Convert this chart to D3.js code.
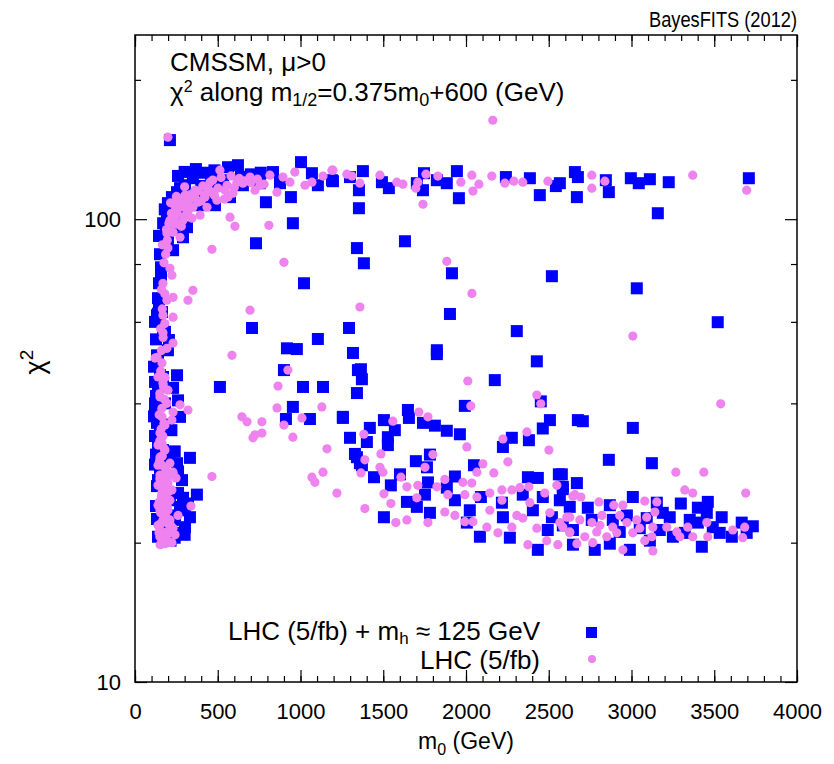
<!DOCTYPE html>
<html>
<head>
<meta charset="utf-8">
<script src="https://cdn.jsdelivr.net/npm/d3@7"></script>
<style>
  body { margin: 0; background: #fff; }
  text { font-family: "Liberation Sans", Arial, sans-serif; }
</style>
</head>
<body>
<div id="chart"></div>
<script>
// LHC (5/fb) + mh ~ 125 GeV   [m0 (GeV), chi2]
var withHiggs = [
  [211,148.2],[368,128.3],[350,122.6],[272,116.7],[254,114.4],[223,111.6],[199,108.3],[193,102.0],
  [187,96.1],[199,89.2],[230,85.7],[314,96.1],[290,91.4],[562,129.5],[622,130.8],[532,121.4],
  [574,111.6],[453,111.6],[652,118.4],[755,119.6],[791,108.8],[834,126.4],[876,119.6],[942,111.6],
  [954,98.0],[1003,132.8],[1069,125.7],[1105,118.4],[1190,121.4],[731,88.7],[1021,72.7],[332,109.9],
  [393,107.2],[483,107.2],[272,102.0],[242,97.0],[302,118.4],[423,114.4],
  [350,110.0],[400,118.0],[460,122.5],[500,118.5],[640,123.5],[700,125.0],[760,126.0],[300,126.5],
  [260,124.0],[420,126.0],[480,127.5],[180,105.0],[170,98.0],[165,92.0],
  [157,78.7],[145,72.7],[139,67.5],[163,63.0],[169,57.6],[205,54.8],[133,50.8],[181,57.1],
  [199,52.1],[139,50.1],[254,46.0],[169,45.6],[230,43.2],[139,43.4],[260,40.6],[272,37.4],
  [121,39.3],[133,36.3],[139,32.8],[211,30.6],[254,29.7],[332,30.5],[374,25.4],[260,25.6],
  [272,23.9],[332,22.7],[302,21.6],[260,21.0],[151,46.0],[121,40.0],[151,28.7],[139,27.3],
  [181,26.0],[211,24.7],[223,22.9],[199,21.8],[181,20.8],[242,22.4],[302,23.5],[284,27.3],
  [133,62.0],[151,35.0],[169,31.7],
  [121,60.0],[127,55.0],[115,48.0],[121,44.5],[127,41.5],[115,37.5],[121,34.0],[127,31.0],
  [121,29.5],[133,26.5],[127,24.0],[133,22.5],[139,20.6],[145,92.0],[151,84.0],[157,75.0],
  [145,66.0],[139,62.5],[181,40.0],[200,36.0],[240,31.5],[220,35.0],[260,28.5],[290,25.0],
  [320,24.3],[300,20.8],[240,20.5],[215,20.2],
  [707,58.2],[513,43.4],[918,52.6],[978,52.4],[1105,55.1],[1293,58.2],[1317,51.4],[900,47.2],
  [1015,43.4],[1136,43.4],[954,39.3],[912,37.0],[1057,37.0],[1256,37.4],[1299,33.7],[1341,30.6],
  [1359,29.7],[1347,47.2],[1341,86.6],[1383,80.3],[1631,89.6],[1915,76.4],[2519,75.3],[1903,62.4],
  [2307,57.3],[1824,52.1],
  [1196,120.8],[1377,127.0],[1299,123.3],[1492,120.2],[1534,116.7],[1703,119.6],[1746,125.7],[1740,115.5],
  [1824,121.4],[1884,119.6],[1945,127.0],[1957,111.0],[1353,115.5],[1353,105.6],[2241,123.3],[2386,122.6],
  [2446,112.7],[2567,119.6],[2543,117.9],[2658,126.4],[2670,111.6],[2676,123.3],[2845,121.4],[2863,114.4],
  [2996,122.6],[3044,119.6],[3111,122.0],[3225,120.2],[3159,103.0],[3709,122.6],[3032,70.9],[3521,59.9],
  [1824,51.1],[2428,49.3],[1365,47.4],[1371,45.1],[1341,42.1],[2174,44.9],[2452,40.4],[1993,39.5],
  [1256,37.2],[1649,38.7],[1655,37.2],[1504,36.8],[1740,36.3],[1812,35.8],[1884,34.9],[1963,34.3],
  [1419,35.4],[1401,33.0],[1528,33.8],[1528,32.5],[1570,35.0],[2507,36.8],[2464,35.3],[2380,33.3],
  [2277,33.7],[2223,32.2],[1329,31.1],[1371,29.4],[1444,27.7],[1697,30.0],[1782,31.0],[1764,29.1],
  [2048,29.4],[2561,28.1],[2374,27.7],[2434,27.6],[1546,26.6],[1601,28.1],[1770,27.0],[1933,27.8],
  [2090,25.1],[1643,24.5],[1703,23.9],[1752,25.4],[1782,23.2],[1504,22.7],[1884,26.3],[1933,24.7],
  [2023,23.5],[2005,22.1],[2084,20.6],[2217,24.4],[2223,22.7],[2265,20.5],[2343,25.4],[2404,23.5],
  [2464,25.1],[2519,22.7],[2567,24.7],[2585,26.4],[2627,23.9],[2646,21.3],[2434,19.3],[2494,21.3],
  [2676,36.8],[2585,21.8],
  [2706,36.6],[3008,35.4],[2863,30.2],[3123,29.7],[2579,28.1],[2670,26.9],[2585,26.1],[3008,25.1],
  [3298,24.3],[3461,24.5],[3153,24.4],[2869,24.1],[3401,23.8],[3545,22.7],[3666,22.1],[3733,21.7],
  [3696,21.0],[3533,21.0],[3606,20.6],[3401,22.1],[3425,19.6],[3231,22.7],[3250,20.6],[3171,21.3],
  [3111,20.2],[2990,19.3],[2778,19.3],[2646,19.8],[2869,19.9],[2972,22.9],[2760,22.4],[3092,22.6],
  [2887,22.4],[2736,23.8],[2929,21.1],[3050,21.5],[3189,23.2],[3322,21.0],[3352,22.4],[3455,23.2],
  [3491,21.6]
];

// LHC (5/fb) only   [m0 (GeV), chi2]
var lhcOnly = [
  [199,150.4],[2162,163.6],
  [513,127.6],[695,123.3],[725,115.5],[652,119.6],[616,120.2],[556,118.4],[501,116.7],[465,114.4],
  [423,111.6],[381,108.8],[350,106.1],[314,104.5],[272,106.1],[254,103.0],[230,100.5],[211,99.5],
  [211,96.1],[230,93.7],[272,91.4],[193,93.2],[199,86.6],[344,100.5],[393,102.0],[435,106.1],
  [495,109.9],[562,111.6],[592,113.8],[574,101.0],[604,96.5],[465,86.1],[211,78.3],[223,75.7],
  [169,72.7],[350,70.2],[320,66.8],[230,67.8],[193,66.8],[169,62.0],[230,61.4],[695,63.6],
  [169,56.8],[230,54.0],[193,52.6],[133,50.3],[586,50.8],[809,97.0],[900,80.7],[858,114.4],
  [936,120.2],[966,126.4],[1027,118.4],[1069,120.2],[1136,123.9],[1190,127.6],[1280,125.1],[1359,119.6],
  [815,124.5],[894,123.3],[302,112.7],[362,115.5],[453,120.2],[755,118.4],[242,107.2],[290,99.5],
  [260,111.0],[320,108.3],[544,115.5],
  [160,52.0],[170,55.5],[155,58.0],[180,59.5],[165,64.0],[180,69.0],[160,70.5],[175,80.5],
  [185,84.0],[165,88.0],[190,95.0],[205,98.0],[220,103.0],[245,105.0],[265,109.0],[290,110.0],
  [310,112.0],[335,113.0],[360,112.0],[380,115.0],[410,118.0],[440,117.0],[470,121.5],[520,123.0],
  [580,124.0],[630,122.5],[660,121.0],[700,120.0],[740,122.0],[780,119.0],[215,108.5],[240,101.0],
  [255,97.5],[280,96.5],[300,101.5],[320,104.0],[195,90.0],[250,112.0],[300,117.5],[400,109.5],
  [350,111.0],[420,113.0],[480,112.5],[540,110.5],[600,117.0],
  [121,50.1],[163,48.9],[139,45.6],[169,44.2],[199,42.7],[151,41.3],[193,40.0],[230,38.3],
  [272,39.7],[320,38.7],[223,36.8],[163,37.4],[181,35.9],[151,34.5],[163,32.8],[181,31.7],
  [151,30.6],[211,29.7],[230,28.4],[248,27.6],[163,29.4],[151,28.0],[169,26.9],[199,26.9],
  [223,26.0],[163,25.7],[169,24.7],[211,24.7],[151,23.5],[199,23.5],[169,22.4],[211,22.4],
  [151,21.3],[193,21.1],[230,21.5],[163,20.2],[223,20.0],[181,19.9],[139,21.8],[139,24.1],
  [139,26.6],[139,29.4],[139,32.5],[242,20.8],[260,22.9],[187,25.4],[187,28.7],[465,27.8],
  [145,21.0],[157,22.0],[175,23.0],[146,24.5],[160,25.2],[178,26.3],[150,27.5],[170,28.0],
  [185,29.0],[148,30.0],[165,30.8],[175,32.0],[150,33.2],[168,34.0],[158,35.2],[175,36.2],
  [146,37.8],[162,39.0],[178,40.8],[150,42.0],[172,43.5],[155,47.0],[182,45.5],[150,20.6],
  [190,20.4],[205,21.0],[200,22.0],[185,22.8],[155,23.2],[195,24.0],[205,25.8],[185,27.5],
  [152,19.8],[200,20.0],[215,21.8],[180,24.3],[200,27.8],
  [338,24.0],[646,37.4],[677,36.5],[725,34.2],[713,33.7],[767,36.5],[767,34.5],[864,43.6],
  [924,47.2],[858,39.1],[900,35.9],[1009,37.2],[1129,39.3],[954,33.8],[1160,31.9],[1136,28.4],
  [1069,27.7],[1087,27.0],[1220,25.6],[1359,64.6],[1884,81.1],[2036,69.1],
  [1196,127.6],[1311,123.9],[1480,124.5],[1582,120.2],[1619,119.0],[1709,120.2],[1697,116.7],[1758,125.1],
  [1830,123.9],[1740,107.7],[1969,120.2],[2035,124.5],[2042,115.0],[2078,119.0],[2156,123.9],[2235,119.6],
  [2289,120.8],[2343,120.2],[2495,120.8],[2760,124.5],[2760,116.7],[2839,120.8],[3370,124.5],[3696,115.5],
  [3008,55.9],
  [2011,44.7],[2428,41.7],[2452,39.9],[2029,39.5],[1715,38.3],[1770,37.4],[1558,36.6],[1383,34.3],
  [2368,34.7],[2223,33.5],[2005,32.2],[2501,31.7],[1486,31.1],[1800,31.0],[1389,30.2],[1752,29.1],
  [1480,29.1],[1498,28.4],[1365,28.3],[2102,29.6],[2253,29.9],[2168,28.3],[1504,25.5],[1546,24.3],
  [1389,23.7],[1576,22.1],[1643,22.4],[1770,22.1],[1607,27.7],[1643,26.4],[1709,26.6],[1703,25.0],
  [1824,26.4],[1872,27.4],[1890,25.4],[1981,27.0],[2035,26.9],[1993,25.4],[2066,25.1],[1872,23.3],
  [1933,22.9],[1993,22.2],[2042,22.2],[2144,23.5],[2144,25.6],[2217,26.0],[2277,26.0],[2325,26.3],
  [2380,26.4],[2217,24.7],[2307,22.9],[2386,24.4],[2343,22.6],[2428,21.5],[2476,25.6],[2549,26.6],
  [2507,23.2],[2567,22.1],[2627,22.7],[2658,25.4],[2488,20.2],[2374,19.8],[2277,21.6],[2193,21.0],
  [2126,21.6],[2555,19.8],[2627,21.0],[2066,28.4],
  [3539,39.9],[3268,28.4],[3437,28.4],[3322,26.0],[3370,25.6],[3690,25.6],[2646,25.2],[2694,25.1],
  [2803,24.5],[2893,24.1],[2948,24.1],[3080,24.6],[3153,24.5],[3141,23.3],[2609,22.7],[2688,22.4],
  [2760,22.1],[2821,22.9],[2887,21.6],[2972,22.1],[3032,22.4],[3092,22.7],[3129,21.6],[3213,21.6],
  [3274,21.1],[3340,21.6],[3455,22.1],[3461,20.6],[3612,21.3],[3684,21.6],[3672,20.5],[3370,20.6],
  [3292,20.6],[3080,20.2],[2948,19.3],[3129,19.2],[2627,21.1],[2718,20.6],[2790,21.1],[2851,20.6],
  [2911,21.0],[3008,21.0],[3050,21.5],[3123,20.6],[2585,21.6],[2766,20.0],[2670,19.9],[2809,21.8],
  [2929,22.9]
];

var xMajor = [0, 500, 1000, 1500, 2000, 2500, 3000, 3500, 4000];
var xMinor = d3.range(0, 4001, 100);
var yMajor = [10, 100];
var yMinor = [20, 40, 60, 80, 200];

var margin = { top: 35, right: 37, bottom: 82, left: 135 };
var width = 834 - margin.left - margin.right,
    height = 764 - margin.top - margin.bottom;

var svg = d3.select('#chart').append('svg')
    .attr('width', 834)
    .attr('height', 764);
var g = svg.append('g')
    .attr('transform', 'translate(' + margin.left + ',' + margin.top + ')');

var x = d3.scaleLinear().domain([0, 4000]).range([0, width]);
var y = d3.scaleLog().domain([10, 250]).range([height, 0]);

function styleAxis(sel) {
    sel.select('.domain').remove();
    sel.selectAll('line').attr('stroke', '#000').attr('stroke-width', 1.2);
    sel.selectAll('text').attr('font-family', '"Liberation Sans", Arial, sans-serif')
        .attr('font-size', 22).attr('fill', '#000');
}

// ticks point inward, mirrored on all four sides
g.append('g').attr('transform', 'translate(0,' + height + ')')
    .call(d3.axisBottom(x).tickValues(xMinor).tickSize(-6).tickFormat(''))
    .call(styleAxis);
g.append('g').attr('transform', 'translate(0,' + height + ')')
    .call(d3.axisBottom(x).tickValues(xMajor).tickSize(-12).tickPadding(21).tickFormat(d3.format('d')))
    .call(styleAxis);
g.append('g')
    .call(d3.axisTop(x).tickValues(xMinor).tickSize(-6).tickFormat(''))
    .call(styleAxis);
g.append('g')
    .call(d3.axisTop(x).tickValues(xMajor).tickSize(-12).tickFormat(''))
    .call(styleAxis);
g.append('g')
    .call(d3.axisLeft(y).tickValues(yMinor).tickSize(-6).tickFormat(''))
    .call(styleAxis);
g.append('g')
    .call(d3.axisLeft(y).tickValues(yMajor).tickSize(-12).tickPadding(14).tickFormat(d3.format('d')))
    .call(styleAxis);
g.append('g').attr('transform', 'translate(' + width + ',0)')
    .call(d3.axisRight(y).tickValues(yMinor).tickSize(-6).tickFormat(''))
    .call(styleAxis);
g.append('g').attr('transform', 'translate(' + width + ',0)')
    .call(d3.axisRight(y).tickValues(yMajor).tickSize(-12).tickFormat(''))
    .call(styleAxis);

// points
var sq = 12;
g.append('g').selectAll('rect')
    .data(withHiggs)
    .enter()
    .append('rect')
    .attr('x', function (d) { return x(d[0]) - sq / 2; })
    .attr('y', function (d) { return y(d[1]) - sq / 2; })
    .attr('width', sq)
    .attr('height', sq)
    .style('fill', '#0000ff');

g.append('g').selectAll('circle')
    .data(lhcOnly)
    .enter()
    .append('circle')
    .attr('cx', function (d) { return x(d[0]); })
    .attr('cy', function (d) { return y(d[1]); })
    .attr('r', 4.6)
    .style('fill', '#ee82ee');

// frame
g.append('rect')
    .attr('width', width)
    .attr('height', height)
    .attr('fill', 'none')
    .attr('stroke', '#000')
    .attr('stroke-width', 1.5);

// texts
svg.append('text')
    .attr('x', 797).attr('y', 27)
    .attr('text-anchor', 'end').attr('font-size', 22)
    .attr('textLength', 148).attr('lengthAdjust', 'spacingAndGlyphs')
    .text('BayesFITS (2012)');

svg.append('text')
    .attr('x', 170).attr('y', 71)
    .attr('font-size', 26)
    .text('CMSSM, \u03bc>0');

var t2 = svg.append('text')
    .attr('x', 170).attr('y', 101)
    .attr('font-size', 26);
t2.append('tspan').text('\u03c7');
t2.append('tspan').attr('dy', -9).attr('font-size', 16).text('2');
t2.append('tspan').attr('dy', 9).text(' along m');
t2.append('tspan').attr('dy', 5).attr('font-size', 18).text('1/2');
t2.append('tspan').attr('dy', -5).text('=0.375m');
t2.append('tspan').attr('dy', 5).attr('font-size', 18).text('0');
t2.append('tspan').attr('dy', -5).text('+600 (GeV)');

// legend
var l1 = svg.append('text')
    .attr('x', 540).attr('y', 640)
    .attr('text-anchor', 'end').attr('font-size', 26);
l1.append('tspan').text('LHC (5/fb) + m');
l1.append('tspan').attr('dy', 4).attr('font-size', 17).text('h');
l1.append('tspan').attr('dy', -4).text(' \u2248 125 GeV');
svg.append('rect')
    .attr('x', 586).attr('y', 627)
    .attr('width', 11).attr('height', 11)
    .style('fill', '#0000ff');

svg.append('text')
    .attr('x', 540).attr('y', 669)
    .attr('text-anchor', 'end').attr('font-size', 26)
    .text('LHC (5/fb)');
svg.append('circle')
    .attr('cx', 592).attr('cy', 659)
    .attr('r', 4)
    .style('fill', '#ee82ee');

// axis titles
var xt = svg.append('text')
    .attr('x', 466).attr('y', 749)
    .attr('text-anchor', 'middle').attr('font-size', 23);
xt.append('tspan').text('m');
xt.append('tspan').attr('dy', 6).attr('font-size', 16).text('0');
xt.append('tspan').attr('dy', -6).text(' (GeV)');

var yt = svg.append('text')
    .attr('transform', 'translate(44,362) rotate(-90)')
    .attr('text-anchor', 'middle').attr('font-size', 27);
yt.append('tspan').text('\u03c7');
yt.append('tspan').attr('dy', -11).attr('font-size', 19).text('2');
</script>
</body>
</html>
